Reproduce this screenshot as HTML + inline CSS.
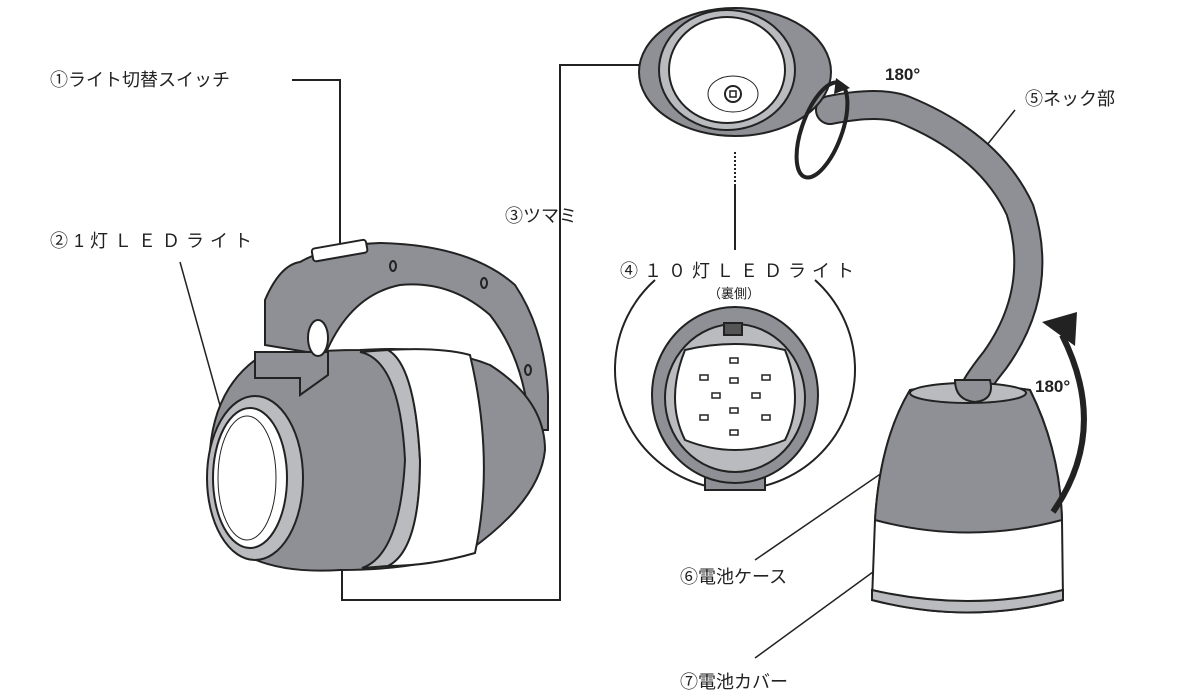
<!DOCTYPE html>
<html><head><meta charset="utf-8"><style>
body{margin:0;background:#fff}
svg{display:block}
text{font-family:"Liberation Sans","Noto Sans CJK JP",sans-serif;fill:#222}
</style></head><body>
<svg width="1200" height="700" viewBox="0 0 1200 700" xmlns="http://www.w3.org/2000/svg">
<g stroke="#222" stroke-width="2" fill="none">
<polyline points="292,80 340,80 340,245"/>
<line x1="180" y1="262" x2="238" y2="470" stroke-width="1.5"/>
<polyline points="642,65 560,65 560,600 342,600 342,565"/>
<line x1="735" y1="185" x2="735" y2="250"/>
<line x1="735" y1="152" x2="735" y2="185" stroke-dasharray="2,2"/>
<line x1="1015" y1="110" x2="975" y2="160" stroke-width="1.5"/>
<line x1="755" y1="560" x2="908" y2="455" stroke-width="1.5"/>
<line x1="755" y1="658" x2="910" y2="545" stroke-width="1.5"/>
</g>

<g stroke="#222" stroke-width="2">
<path d="M265,345 L265,300 Q280,265 300,262 Q330,245 380,243 Q470,245 515,285 Q545,330 548,395 L548,430 L530,430 Q525,360 490,315 Q450,280 400,285 Q350,295 325,355 Z" fill="#8e9095"/>
<path d="M255,360 Q300,350 360,350 Q440,345 490,365 Q545,400 545,450 Q540,500 470,550 Q420,570 340,570 Q260,575 225,540 Q205,500 210,450 Q215,390 255,360Z" fill="#8e9095"/>
<path d="M360,352 Q400,360 405,460 Q400,555 362,568 L388,566 Q420,550 420,460 Q415,365 388,350Z" fill="#b9bbbe"/>
<path d="M388,350 Q440,347 470,355 Q495,460 475,553 Q430,566 388,566 Q420,550 420,460 Q415,365 388,350Z" fill="#fff"/>
<path d="M255,352 L255,378 L300,378 L300,395 L328,375 L328,352Z" fill="#8e9095"/>
<ellipse cx="255" cy="478" rx="48" ry="82" fill="#b9bbbe"/>
<ellipse cx="250" cy="478" rx="37" ry="70" fill="#fff"/>
<ellipse cx="247" cy="478" rx="29" ry="62" fill="none" stroke-width="1"/>
<rect x="312" y="244" width="55" height="13" rx="3" fill="#fff" transform="rotate(-10 340 250)"/>
</g>
<g fill="none" stroke="#222" stroke-width="2">
<ellipse cx="318" cy="338" rx="10" ry="18" fill="#fff"/>
<ellipse cx="393" cy="266" rx="3" ry="5"/><ellipse cx="484" cy="283" rx="3" ry="5"/><ellipse cx="528" cy="370" rx="3" ry="5"/>
</g>

<path d="M830,110 Q880,100 905,110 Q990,145 1020,210 Q1045,290 995,360 Q975,385 972,395" fill="none" stroke="#222" stroke-width="30" stroke-linecap="round"/>
<path d="M830,110 Q880,100 905,110 Q990,145 1020,210 Q1045,290 995,360 Q975,385 972,395" fill="none" stroke="#8e9095" stroke-width="26" stroke-linecap="round"/>
<g stroke="#222" stroke-width="2">
<ellipse cx="735" cy="72" rx="96" ry="64" fill="#8e9095"/>
<ellipse cx="727" cy="70" rx="68" ry="60" fill="#b9bbbe"/>
<ellipse cx="727" cy="70" rx="58" ry="53" fill="#fff"/>
<ellipse cx="733" cy="94" rx="25" ry="18" fill="none" stroke-width="1"/>
<circle cx="733" cy="94" r="8" fill="#fff"/>
<rect x="730" y="91" width="6" height="6" fill="none" stroke-width="1.5"/>
</g>
<ellipse cx="822" cy="130" rx="20" ry="50" transform="rotate(20 822 130)" fill="none" stroke="#222" stroke-width="4"/>
<path d="M836,78 L850,88 L834,94Z" fill="#222"/>

<g stroke="#222" stroke-width="2">
<path d="M910,390 Q968,380 1030,390 Q1060,450 1062,520 L1063,600 Q968,625 872,600 L875,520 Q880,440 910,390Z" fill="#fff"/>
<path d="M910,390 Q968,380 1030,390 Q1060,450 1062,520 Q968,545 875,520 Q880,440 910,390Z" fill="#8e9095"/>
<path d="M872,590 Q968,612 1063,590 L1063,600 Q968,625 872,600Z" fill="#b9bbbe"/>
<ellipse cx="968" cy="393" rx="58" ry="10" fill="#b9bbbe"/>
<path d="M955,380 Q955,400 975,402 Q995,400 990,380Z" fill="#8e9095"/>
</g>
<path d="M1053,512 Q1110,430 1062,335" fill="none" stroke="#222" stroke-width="6"/>
<path d="M1042,322 L1077,312 L1075,346Z" fill="#222"/>

<path d="M655,280 A120,120 0 1,0 815,280" fill="none" stroke="#222" stroke-width="2"/>
<g stroke="#222" stroke-width="2">
<rect x="705" y="455" width="60" height="35" fill="#8e9095"/>
<ellipse cx="735" cy="395" rx="83" ry="88" fill="#8e9095"/>
<ellipse cx="735" cy="398" rx="70" ry="74" fill="#b9bbbe"/>
<path d="M685,350 Q735,338 785,350 Q805,400 785,440 Q735,460 685,440 Q665,400 685,350Z" fill="#fff"/>
<rect x="724" y="323" width="18" height="12" fill="#555"/>
</g>
<g fill="#fff" stroke="#222" stroke-width="1.5">
<rect x="730" y="358" width="8" height="5"/><rect x="700" y="375" width="8" height="5"/><rect x="762" y="375" width="8" height="5"/>
<rect x="730" y="378" width="8" height="5"/><rect x="712" y="393" width="8" height="5"/><rect x="752" y="393" width="8" height="5"/>
<rect x="730" y="408" width="8" height="5"/><rect x="700" y="415" width="8" height="5"/><rect x="762" y="415" width="8" height="5"/>
<rect x="730" y="430" width="8" height="5"/>
</g>

<text x="50" y="86" font-size="18">①ライト切替スイッチ</text>
<text x="50" y="247" font-size="18" letter-spacing="6">②1灯ＬＥＤライト</text>
<text x="505" y="222" font-size="18">③ツマミ</text>
<text x="620" y="277" font-size="18" letter-spacing="6">④１０灯ＬＥＤライト</text>
<text x="708" y="298" font-size="13">（裏側）</text>
<text x="1025" y="105" font-size="18">⑤ネック部</text>
<text x="680" y="583" font-size="18">⑥電池ケース</text>
<text x="680" y="688" font-size="18">⑦電池カバー</text>
<text x="885" y="80" font-size="17" font-weight="bold">180°</text>
<text x="1035" y="392" font-size="17" font-weight="bold">180°</text>
</svg>
</body></html>
